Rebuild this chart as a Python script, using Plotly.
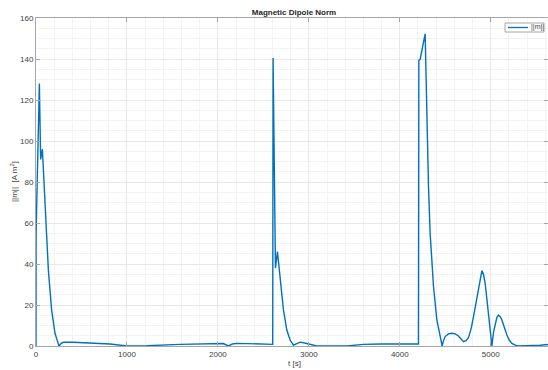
import plotly.graph_objects as go

# time samples [s]
t_s = [0, 1, 37, 51, 70, 99, 136, 172, 209, 235, 253, 275, 300, 410, 668, 814, 997,
       1218, 1584, 1988, 2060, 2115, 2160, 2208, 2574, 2603, 2607, 2633, 2655, 2684,
       2721, 2758, 2794, 2831, 2870, 2904, 2978, 3088, 3418, 3601, 3784, 4206, 4210,
       4224, 4279, 4300, 4316, 4334, 4371, 4408, 4444, 4466, 4480, 4499, 4535, 4573,
       4610, 4646, 4701, 4730, 4756, 4785, 4811, 4840, 4866, 4885, 4903, 4920, 4939,
       4960, 4976, 4995, 5013, 5030, 5049, 5068, 5086, 5105, 5123, 5150, 5178, 5205,
       5233, 5270, 5306, 5545, 5630]
# ||m|| [A m^2]
m_norm = [0, 55, 128, 91, 96, 70, 37, 17.5, 6.2, 2.5, 0, 1.2, 1.8, 1.8, 1.3, 1.0, 0,
          0.15, 0.8, 1.3, 1.2, 0, 1.0, 1.3, 0.8, 0.8, 140.5, 38, 46, 34,
          17.6, 7.8, 2.9, 0.4, 1.4, 1.9, 1.2, 0, 0, 0.8, 1.0, 1.0, 139.3,
          139.8, 152.3, 100, 77.7, 55, 29, 12.7, 4.5, 0, 2.5, 4.6, 5.9, 6.2,
          5.9, 4.9, 2.1, 2.6, 4.2, 8.5, 14.3, 22, 29, 34, 36.8, 35, 30.6,
          22, 14.3, 6.5, 0, 6.5, 10.5, 14, 15.1, 14.3, 12.7, 9, 5.4, 2.8,
          1.3, 0.4, 0, 0.4, 0.7]

series_name = "||m||"
x_ticks = [0, 1000, 2000, 3000, 4000, 5000]
y_ticks = [0, 20, 40, 60, 80, 100, 120, 140, 160]

LINE_COLOR = "#0072BD"
FONT = "Liberation Sans, Arial"

fig = go.Figure()
fig.add_trace(go.Scatter(x=t_s, y=m_norm, mode="lines", name=series_name,
                         showlegend=False,
                         line=dict(color=LINE_COLOR, width=1.4)))

axis_common = dict(
    showline=True, linecolor="#a6a6a6", linewidth=1, mirror="ticks",
    ticks="inside", ticklen=4, tickcolor="#a6a6a6",
    showgrid=True, gridcolor="#e8e8e8", gridwidth=1,
    zeroline=False, automargin=False,
    tickfont=dict(family=FONT, size=8, color="#404040"),
)

W, H = 548, 370
L, R, T, B = 36, 0, 18, 24
PW, PH = W - L - R, H - T - B

fig.update_layout(
    width=W, height=H,
    margin=dict(l=L, r=R, t=T, b=B, autoexpand=False),
    paper_bgcolor="white", plot_bgcolor="white",
    title=dict(text="<b>Magnetic Dipole Norm</b>", x=294/W, xanchor="center",
               y=1 - 12/H, yanchor="middle",
               font=dict(family=FONT, size=8, color="#262626")),
    showlegend=False,
)
fig.update_xaxes(range=[0, 5630], tickvals=x_ticks, ticktext=[str(v) for v in x_ticks],
                 minor=dict(dtick=200, showgrid=True, gridcolor="#f3f3f3", ticks=""),
                 **axis_common)
fig.update_yaxes(range=[0, 160], tickvals=y_ticks, ticktext=[str(v) for v in y_ticks],
                 minor=dict(dtick=5, showgrid=True, gridcolor="#f3f3f3", ticks=""),
                 **axis_common)

# axis titles
fig.add_annotation(text="t [s]", xref="paper", yref="paper", x=(294 - L)/PW, y=-17/PH,
                   xanchor="center", yanchor="middle", showarrow=False,
                   font=dict(family=FONT, size=8, color="#404040"))
fig.add_annotation(text="||m||  [A m<sup>2</sup>]", xref="paper", yref="paper",
                   x=-22/PW, y=(346 - 182)/PH, xanchor="center", yanchor="middle",
                   textangle=-90, showarrow=False,
                   font=dict(family=FONT, size=8, color="#404040"))

# legend box (top-right), drawn in paper coordinates
def px_x(px):
    return (px - L) / PW

def px_y(py):
    return (H - B - py) / PH

fig.add_shape(type="rect", xref="paper", yref="paper",
              x0=px_x(505), x1=px_x(544), y0=px_y(32), y1=px_y(23),
              line=dict(color="#a6a6a6", width=1), fillcolor="white", layer="above")
fig.add_shape(type="line", xref="paper", yref="paper",
              x0=px_x(508), x1=px_x(528), y0=px_y(27.5), y1=px_y(27.5),
              line=dict(color=LINE_COLOR, width=1.3), layer="above")
fig.add_annotation(text=series_name, xref="paper", yref="paper",
                   x=px_x(529), y=px_y(27.5), xanchor="left", yanchor="middle",
                   showarrow=False,
                   font=dict(family=FONT, size=7, color="#404040"))

fig.write_html("out.html", config={"displayModeBar": False},
               post_script="document.body.style.margin='0';document.body.style.overflow='hidden';")
